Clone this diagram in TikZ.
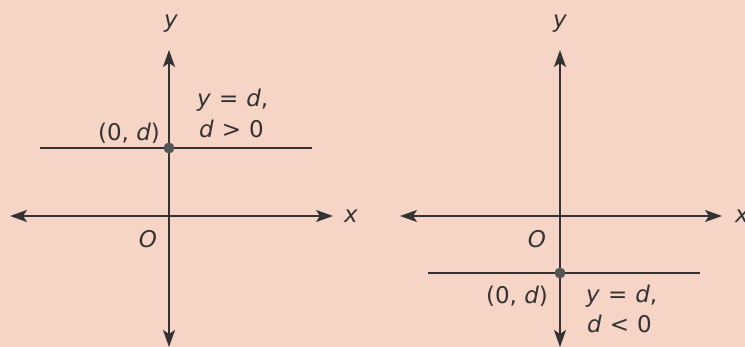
\documentclass[tikz,border=0pt]{standalone}
\usepackage{fontspec}
\setmainfont{DejaVu Sans}
\usetikzlibrary{arrows.meta}
\definecolor{bgpeach}{HTML}{F6D5C6}
\definecolor{ink}{HTML}{333333}
\definecolor{dotgray}{HTML}{555555}
\tikzset{
  axis/.style={draw=ink, line width=1.8pt, {Stealth[length=17pt,width=12pt,inset=4pt]}-{Stealth[length=17pt,width=12pt,inset=4pt]}},
  hline/.style={draw=ink, line width=1.6pt},
  lbl/.style={text=ink, font=\fontsize{23}{26}\selectfont, inner sep=0pt},
  ptdot/.style={circle, fill=dotgray, minimum size=11pt, inner sep=0pt},
}
\newcommand{\vv}[1]{\textit{#1}}
\begin{document}
\begin{tikzpicture}[x=1pt,y=-1pt]
\fill[bgpeach] (0,0) rectangle (745,347);
\useasboundingbox (0,0) rectangle (745,347);
% left panel
\coordinate (lyt) at (169,50);
\coordinate (lyb) at (169,347);
\coordinate (lxl) at (10,216);
\coordinate (lxr) at (333,216);
\coordinate (lhl) at (40,148);
\coordinate (lhr) at (312,148);
\draw[hline] (lhl) -- (lhr);
\draw[axis] (lxl) -- (lxr);
\draw[axis] (lyb) -- (lyt);
\node[ptdot] (lpt) at (169,148) {};
\node[lbl] (lylab) at (171,24) {\vv{y}};
\node[lbl] (lxlab) at (351,216) {\vv{x}};
\node[lbl] (lO) at (148,239) {\vv{O}};
\node[lbl] (lpl) at (129,133) {(0,\ \vv{d})};
\node[lbl, anchor=west] (leq) at (197,100) {\vv{y}\hspace{8pt}=\hspace{8pt}\vv{d},};
\node[lbl, anchor=west] (lineq) at (199,129) {\vv{d}\hspace{8pt}>\hspace{8pt}0};
% right panel
\coordinate (ryt) at (560,50);
\coordinate (ryb) at (560,347);
\coordinate (rxl) at (400,216);
\coordinate (rxr) at (722,216);
\coordinate (rhl) at (428,273);
\coordinate (rhr) at (700,273);
\draw[hline] (rhl) -- (rhr);
\draw[axis] (rxl) -- (rxr);
\draw[axis] (ryb) -- (ryt);
\node[ptdot] (rpt) at (560,273) {};
\node[lbl] (rylab) at (560,24) {\vv{y}};
\node[lbl, anchor=west] (rxlab) at (735,216) {\vv{x}};
\node[lbl] (rO) at (537,239) {\vv{O}};
\node[lbl] (rpl) at (517,296) {(0,\ \vv{d})};
\node[lbl, anchor=west] (req) at (586,296) {\vv{y}\hspace{8pt}=\hspace{8pt}\vv{d},};
\node[lbl, anchor=west] (rineq) at (587,324) {\vv{d}\hspace{8pt}<\hspace{8pt}0};
\end{tikzpicture}
\end{document}
